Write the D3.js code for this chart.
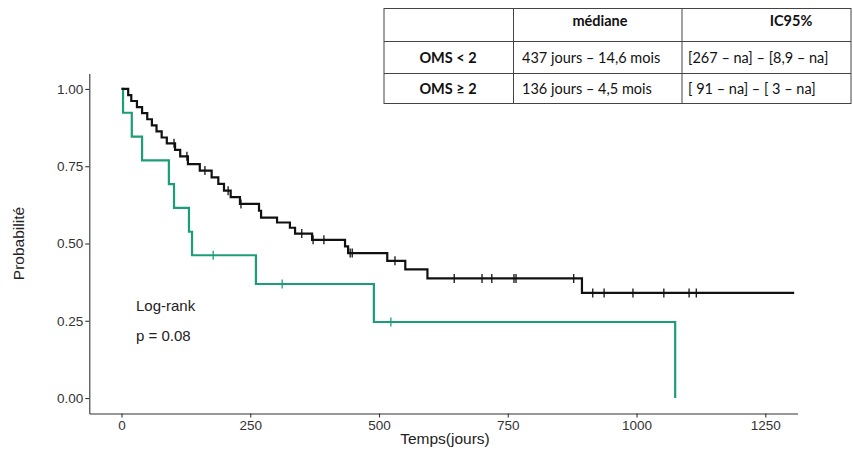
<!DOCTYPE html>
<html>
<head>
<meta charset="utf-8">
<script src="https://cdn.jsdelivr.net/npm/d3@7"></script>
<style>
  body { margin: 0; background: #fff; }
  svg { display: block; }
</style>
</head>
<body>
<div id="chart"></div>
<script>
// ----------------------
// Data
// ----------------------
const xTicks = [0, 250, 500, 750, 1000, 1250];
const yTicks = [0, 0.25, 0.5, 0.75, 1];

// OMS < 2 (black): step times (days) and survival after each step
const omsLowTimes = [0, 13, 19, 30, 40, 50, 59, 68, 78, 88, 104, 114, 129, 152, 175, 188, 199, 212, 230,
    267, 271, 302, 327, 337, 370, 434, 440, 516, 551, 594, 894];
const omsLowSurv = [1.000, 0.980, 0.961, 0.941, 0.922, 0.902, 0.882, 0.863, 0.843, 0.824, 0.803, 0.782, 0.757, 0.736,
    0.714, 0.693, 0.671, 0.650, 0.628, 0.606, 0.584, 0.568, 0.551, 0.532, 0.512, 0.491, 0.469, 0.444, 0.416, 0.387, 0.340];
const omsLowCensor = [102, 127, 162, 207, 232, 350, 372, 393, 444, 448, 531, 646, 700, 719, 762, 766, 878,
    915, 937, 993, 1053, 1102, 1116];
const omsLowEnd = 1306;

// OMS >= 2 (green)
const omsHighTimes = [0, 3, 20, 40, 92, 102, 131, 137, 261, 490, 1075];
const omsHighSurv = [1.000, 0.923, 0.846, 0.769, 0.692, 0.615, 0.538, 0.462, 0.369, 0.246, 0.000];
const omsHighCensor = [178, 312, 523];
const omsHighEnd = 1075;

// Summary table
const tableHeader = ["", "médiane", "IC95%"];
const tableRows = [
    ["OMS < 2", "437 jours \u2013 14,6 mois", "[267 \u2013 na] \u2013 [8,9 \u2013 na]"],
    ["OMS \u2265 2", "136 jours \u2013 4,5 mois", "[ 91 \u2013 na] \u2013 [ 3 \u2013 na]"]
];

// ----------------------
// Layout
// ----------------------
const width = 853;
const height = 450;

const svg = d3.select("#chart")
    .append("svg")
    .attr("width", width)
    .attr("height", height);

const x = d3.scaleLinear().domain([-62.5, 1312.5]).range([89.3, 797.5]);
const y = d3.scaleLinear().domain([-0.05, 1.05]).range([413.5, 73.5]);

const axisFont = "'Liberation Sans', Arial, sans-serif";

// Axes
const xAxis = svg.append("g")
    .attr("transform", `translate(0, ${y.range()[0]})`)
    .call(d3.axisBottom(x).tickValues(xTicks).tickFormat(d3.format("d"))
        .tickSize(4).tickPadding(3).tickSizeOuter(0));

const yAxis = svg.append("g")
    .attr("transform", `translate(${x.range()[0]}, 0)`)
    .call(d3.axisLeft(y).tickValues(yTicks).tickFormat(d3.format(".2f"))
        .tickSize(4).tickPadding(2).tickSizeOuter(0));

[xAxis, yAxis].forEach(a => {
    a.attr("font-family", null).attr("font-size", null);
    a.select(".domain").attr("stroke", "#333").attr("stroke-width", 1.1);
    a.selectAll(".tick line").attr("stroke", "#333").attr("stroke-width", 1.1);
    a.selectAll(".tick text")
        .attr("fill", "#333")
        .style("font-family", axisFont)
        .style("font-size", "13.5px");
});

// Axis titles
svg.append("text")
    .attr("x", 445)
    .attr("y", 444)
    .attr("text-anchor", "middle")
    .style("font-family", axisFont)
    .style("font-size", "15.5px")
    .attr("fill", "#222")
    .text("Temps(jours)");

svg.append("text")
    .attr("transform", `translate(24, ${y(0.5)}) rotate(-90)`)
    .attr("text-anchor", "middle")
    .style("font-family", axisFont)
    .style("font-size", "15.5px")
    .attr("fill", "#222")
    .text("Probabilité");

// ----------------------
// Survival curves
// ----------------------
const line = d3.line()
    .x(d => x(d[0]))
    .y(d => y(d[1]))
    .curve(d3.curveStepAfter);

function drawCurve(times, surv, censor, end, colour) {
    const pts = times.map((t, i) => [t, surv[i]]);
    if (end > times[times.length - 1]) pts.push([end, surv[surv.length - 1]]);

    svg.append("path")
        .datum(pts)
        .attr("d", line)
        .attr("fill", "none")
        .attr("stroke", colour)
        .attr("stroke-width", 2.2);

    // censor marks "+"
    const survAt = t => surv[d3.bisectRight(times, t) - 1];
    svg.append("g")
        .selectAll("line")
        .data(censor)
        .enter()
        .append("line")
        .attr("x1", d => x(d))
        .attr("x2", d => x(d))
        .attr("y1", d => y(survAt(d)) - 4.5)
        .attr("y2", d => y(survAt(d)) + 4.5)
        .attr("stroke", colour)
        .attr("stroke-width", 1.3);
}

drawCurve(omsHighTimes, omsHighSurv, omsHighCensor, omsHighEnd, "#1b9e77");
drawCurve(omsLowTimes, omsLowSurv, omsLowCensor, omsLowEnd, "#111");

// Log-rank annotation
svg.append("text")
    .attr("x", 136)
    .attr("y", 311)
    .style("font-family", axisFont)
    .style("font-size", "15px")
    .attr("fill", "#222")
    .text("Log-rank");

svg.append("text")
    .attr("x", 136)
    .attr("y", 341)
    .style("font-family", axisFont)
    .style("font-size", "15px")
    .attr("fill", "#222")
    .text("p = 0.08");

// ----------------------
// Table
// ----------------------
const colX = [384, 513.5, 682, 851];
const rowY = [8.5, 41.5, 73.5, 103.5];
const tableFont = "Lato, 'Open Sans', sans-serif";

const table = svg.append("g");

table.append("rect")
    .attr("x", colX[0])
    .attr("y", rowY[0])
    .attr("width", colX[3] - colX[0])
    .attr("height", rowY[3] - rowY[0])
    .attr("fill", "#fff")
    .attr("stroke", "#444")
    .attr("stroke-width", 1);

rowY.slice(1, 3).forEach(ry => {
    table.append("line")
        .attr("x1", colX[0]).attr("x2", colX[3])
        .attr("y1", ry).attr("y2", ry)
        .attr("stroke", "#444");
});
colX.slice(1, 3).forEach(cx => {
    table.append("line")
        .attr("x1", cx).attr("x2", cx)
        .attr("y1", rowY[0]).attr("y2", rowY[3])
        .attr("stroke", "#444");
});

// header
const headerX = [448, 600, 791];
tableHeader.forEach((h, i) => {
    table.append("text")
        .attr("x", headerX[i])
        .attr("y", 25.5)
        .attr("text-anchor", "middle")
        .style("font-family", tableFont)
        .style("font-size", "14.5px")
        .style("font-weight", "bold")
        .attr("fill", "#111")
        .text(h);
});

// body rows
const rowBase = [63, 93.5];
tableRows.forEach((row, r) => {
    table.append("text")
        .attr("x", 448)
        .attr("y", rowBase[r])
        .attr("text-anchor", "middle")
        .style("font-family", tableFont)
        .style("font-size", "14.5px")
        .style("font-weight", "bold")
        .attr("fill", "#111")
        .text(row[0]);
    [row[1], row[2]].forEach((c, i) => {
        table.append("text")
            .attr("x", i === 0 ? 522 : 688)
            .attr("y", rowBase[r])
            .style("font-family", tableFont)
            .style("font-size", "14.5px")
            .attr("fill", "#111")
            .text(c);
    });
});
</script>
</body>
</html>
